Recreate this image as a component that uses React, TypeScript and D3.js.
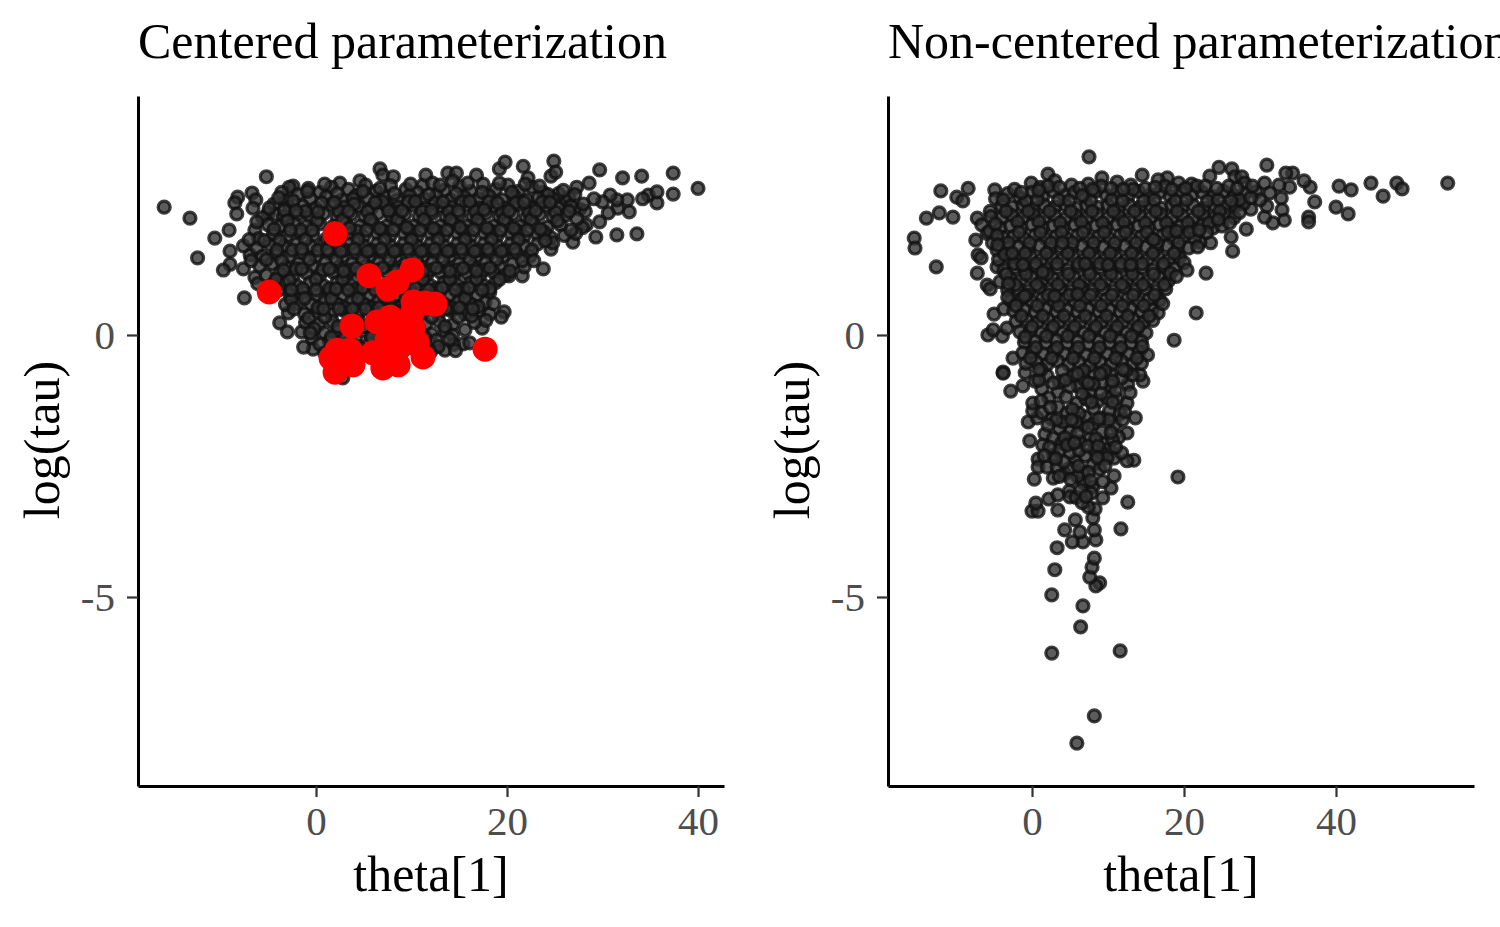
import React, { useEffect, useRef } from 'react';
import * as d3 from 'd3';

type Pt = [number, number];

const thetaTicks = [0, 20, 40];
const tauTicks = [0, -5];

// centered fit: [theta[1], log(tau)], edges first, then the body band by band
const centeredLeftEdge: Pt[] = [
  [-15.9, 2.44], [-13.2, 2.23], [-5.2, 3.02], [-10.6, 1.85], [-12.4, 1.47], [-9.1, 2.0], [-8.2, 2.63], [-8.5, 2.52],
  [-6.7, 2.71], [-6.3, 2.58], [-8.3, 2.31], [-6.6, 2.42], [-5.0, 2.33], [-9.0, 1.6], [-9.0, 1.35], [-9.7, 1.24],
  [-7.6, 1.26], [-7.5, 0.71], [-6.9, 1.53], [-2.4, 2.84], [-2.8, 2.82], [-0.8, 2.8], [-3.8, 0.23], [-3.0, 0.06],
  [-2.9, 0.42], [-1.5, 0.06], [-0.4, -0.06], [-0.3, -0.27], [-1.3, -0.23], [2.8, -0.82], [-6.4, 1.1], [-6.1, 0.98],
];
const centeredTopEdge: Pt[] = [
  [2.5, 2.9], [4.6, 2.94], [6.7, 3.17], [7.0, 3.05], [8.1, 3.02], [11.2, 2.86], [11.5, 3.05], [13.8, 3.09],
  [14.7, 3.09], [16.8, 3.05], [19.2, 3.17], [19.8, 3.3], [21.7, 3.22], [22.2, 3.0], [24.6, 3.03], [24.9, 3.32],
  [25.1, 3.11],
];
const centeredRightEdge: Pt[] = [
  [40, 2.8], [37.4, 3.09], [37.4, 2.69], [34.1, 3.03], [32.1, 3.0], [29.7, 3.15], [28.6, 2.9], [27.3, 2.82],
  [34.8, 2.67], [34.2, 2.6], [35.7, 2.52], [35.7, 2.73], [32.8, 2.35], [33.6, 1.93], [31.5, 1.91], [29.3, 1.87],
  [26.9, 1.77], [24.6, 1.64], [23.8, 1.26], [21.6, 1.13], [20.2, 1.13], [19.7, 0.44], [19.4, 0.34], [15.4, -0.17],
  [13.5, -0.29], [16.1, -0.15], [15.6, 0.1], [17.4, 0.13], [31.6, 2.42], [30.6, 2.33], [29.7, 2.16], [28.3, 2.1],
  [32.6, 2.58], [31.5, 2.58], [30.8, 2.67], [30, 2.54], [29.1, 2.6], [27.6, 2.4], [26.2, 2.55], [27.9, 2.05],
];
const centeredBand27: Pt[] = [
  [-3.6, 2.72], [-1.9, 2.68], [0.4, 2.72], [1.6, 2.82], [3.4, 2.78], [5.2, 2.86], [6.3, 2.74], [7.8, 2.85],
  [9.4, 2.78], [10.6, 2.72], [12.2, 2.9], [13.4, 2.76], [15, 2.84], [16.2, 2.74], [17.5, 2.88], [18.8, 2.78],
  [20.1, 2.86], [21.2, 2.74], [22.6, 2.82], [14.3, 2.94], [23.8, 2.72], [25.4, 2.7], [26.5, 2.62], [24.8, 2.6],
  [-0.6, 2.6], [1.1, 2.64], [2.7, 2.58], [4.2, 2.66], [5.5, 2.6], [7.1, 2.64], [8.5, 2.58], [9.8, 2.66],
  [11.3, 2.6], [12.6, 2.66], [14.1, 2.58], [15.5, 2.64], [17, 2.6], [18.1, 2.66], [19.5, 2.58], [20.8, 2.64],
  [22.1, 2.58], [23.3, 2.62], [-3.1, 2.56], [-4.4, 2.5],
];
const centeredBand24: Pt[] = [
  [-5.6, 2.24], [-4.2, 2.3], [-2.8, 2.44], [-1.4, 2.46], [0, 2.42], [1.5, 2.48], [3, 2.44], [4.4, 2.46],
  [5.8, 2.42], [7.3, 2.48], [8.6, 2.44], [10.1, 2.48], [11.5, 2.42], [12.9, 2.46], [14.2, 2.44], [15.7, 2.48],
  [17.1, 2.42], [18.5, 2.46], [19.8, 2.42], [21.2, 2.48], [22.6, 2.42], [24, 2.46], [25.4, 2.42], [26.7, 2.46],
  [28.2, 2.36], [-3.4, 2.26], [-1.9, 2.3], [-0.6, 2.26], [0.8, 2.32], [2.2, 2.26], [3.7, 2.3], [5.1, 2.26],
  [6.5, 2.32], [7.9, 2.26], [9.3, 2.3], [10.8, 2.26], [12.2, 2.32], [13.6, 2.26], [15, 2.3], [16.4, 2.26],
  [17.8, 2.32], [19.2, 2.26], [20.6, 2.3], [22, 2.24], [23.4, 2.3], [24.8, 2.26], [26.1, 2.28], [27.3, 2.22],
];
const centeredBand20: Pt[] = [
  [-6.4, 2.0], [-5, 2.1], [-3.7, 2.08], [-2.3, 2.12], [-1, 2.08], [0.4, 2.12], [1.8, 2.08], [3.1, 2.14],
  [4.6, 2.08], [6, 2.12], [7.4, 2.08], [8.8, 2.14], [10.2, 2.08], [11.6, 2.12], [13, 2.08], [14.4, 2.14],
  [15.8, 2.08], [17.2, 2.12], [18.6, 2.08], [20, 2.14], [21.4, 2.08], [22.8, 2.12], [24.2, 2.06], [25.6, 2.1],
  [-6, 1.84], [-4.5, 1.92], [-3.1, 1.88], [-1.7, 1.94], [-0.3, 1.9], [3.6, 1.94], [5, 1.88], [6.4, 1.94],
  [7.8, 1.9], [9.2, 1.94], [10.6, 1.88], [12, 1.94], [13.4, 1.9], [14.8, 1.94], [16.2, 1.88], [17.6, 1.94],
  [19, 1.9], [20.4, 1.94], [21.8, 1.88], [23.2, 1.92], [24.6, 1.86], [26, 1.9], [27.2, 1.94],
];
const centeredBand17: Pt[] = [
  [-7.6, 1.7], [-6.2, 1.66], [-4.8, 1.72], [-3.4, 1.7], [-2, 1.74], [-0.6, 1.7], [0.8, 1.74], [2.2, 1.7],
  [3.6, 1.74], [5, 1.7], [6.4, 1.74], [7.8, 1.7], [9.2, 1.74], [10.6, 1.7], [12, 1.74], [13.4, 1.7],
  [14.8, 1.74], [16.2, 1.7], [17.6, 1.74], [19, 1.7], [20.4, 1.74], [21.8, 1.7], [23.2, 1.74], [24.8, 1.76],
  [-5.6, 1.5], [-4.2, 1.54], [-2.8, 1.5], [-1.4, 1.56], [0, 1.5], [1.4, 1.56], [2.8, 1.5], [4.2, 1.56],
  [5.6, 1.5], [7, 1.56], [8.4, 1.5], [9.8, 1.56], [11.2, 1.5], [12.6, 1.56], [14, 1.5], [15.4, 1.56],
  [16.8, 1.5], [18.2, 1.56], [19.6, 1.5], [21, 1.56], [22.4, 1.5],
];
const centeredBand13: Pt[] = [
  [-5.9, 1.32], [-4.6, 1.36], [-3.2, 1.3], [-1.8, 1.36], [-0.4, 1.32], [1, 1.38], [2.4, 1.3], [3.8, 1.36],
  [5.2, 1.32], [6.6, 1.38], [8, 1.3], [9.4, 1.36], [10.8, 1.32], [12.2, 1.38], [13.6, 1.3], [15, 1.36],
  [16.4, 1.32], [17.8, 1.38], [19.2, 1.3], [20.6, 1.36], [21.8, 1.3], [-5.2, 1.14], [-3.8, 1.18], [-2.4, 1.12],
  [-1, 1.18], [0.4, 1.14], [1.8, 1.2], [3.2, 1.12], [4.6, 1.18], [6, 1.14], [7.4, 1.2], [8.8, 1.12],
  [10.2, 1.18], [11.6, 1.14], [13, 1.2], [14.4, 1.12], [15.8, 1.18], [17.2, 1.14], [18.6, 1.2], [19.8, 1.14],
];
const centeredBand09: Pt[] = [
  [-4.6, 0.96], [-3.4, 0.98], [-2, 0.94], [-0.6, 1.0], [0.8, 0.94], [2.2, 1.0], [3.6, 0.96], [5, 1.0],
  [6.4, 0.94], [7.8, 1.0], [9.2, 0.96], [10.6, 1.0], [12, 0.94], [13.4, 1.0], [14.8, 0.96], [16.2, 1.0],
  [17.6, 0.94], [18.8, 1.0], [-2.7, 0.76], [-1.3, 0.82], [0.1, 0.76], [1.5, 0.82], [2.9, 0.76], [4.3, 0.82],
  [5.7, 0.76], [7.1, 0.82], [8.5, 0.76], [9.9, 0.82], [11.3, 0.76], [12.7, 0.82], [14.1, 0.76], [15.5, 0.82],
  [16.9, 0.76], [18.2, 0.82],
];
const centeredBand05: Pt[] = [
  [-3.2, 0.58], [-1.9, 0.6], [-0.5, 0.58], [0.9, 0.64], [2.3, 0.58], [3.7, 0.64], [5.1, 0.58], [6.5, 0.64],
  [7.9, 0.58], [9.3, 0.64], [10.7, 0.58], [12.1, 0.64], [13.5, 0.58], [14.9, 0.64], [16.3, 0.58], [17.7, 0.62],
  [-1.2, 0.4], [0.2, 0.44], [1.6, 0.4], [3, 0.46], [4.4, 0.4], [5.8, 0.46], [7.2, 0.4], [8.6, 0.46],
  [10, 0.4], [11.4, 0.46], [12.8, 0.4], [14.2, 0.46], [15.6, 0.4], [17, 0.46], [18.2, 0.4],
];
const centeredBand01: Pt[] = [
  [-1.1, 0.24], [0.3, 0.2], [1.7, 0.26], [3.1, 0.2], [4.5, 0.26], [5.9, 0.2], [7.3, 0.26], [8.7, 0.2],
  [10.1, 0.26], [11.5, 0.2], [12.9, 0.26], [14.3, 0.2], [16.6, 0.24], [0.9, 0.04], [2.3, 0.08], [3.7, 0.02],
  [5.1, 0.08], [6.5, 0.02], [7.9, 0.08], [9.3, 0.02], [10.7, 0.08], [12.1, 0.02], [13.5, 0.08], [14.3, 0.0],
  [1.4, -0.12], [2.9, -0.16], [4.2, -0.1], [5.6, -0.16], [7, -0.1], [8.4, -0.16], [9.8, -0.1], [11.2, -0.16],
  [12.6, -0.1], [14.4, -0.18],
];
// second pass over the dense body, between the marks above
const centeredFillUpper: Pt[] = [
  [-3.9, 2.62], [-2.4, 2.56], [-0.9, 2.74], [0.9, 2.88], [2.2, 2.7], [3.9, 2.6], [4.9, 2.74], [6.7, 2.8],
  [8.2, 2.7], [9.9, 2.88], [11.8, 2.68], [13, 2.86], [14.7, 2.7], [15.9, 2.9], [17.4, 2.72], [19.2, 2.9],
  [20.5, 2.72], [21.9, 2.88], [23.4, 2.84], [24.3, 2.68], [25.9, 2.76], [27.1, 2.68], [28, 2.5], [-4.9, 2.42],
  [-3.3, 2.38], [-1.1, 2.36], [0.6, 2.52], [2.4, 2.36], [4, 2.5], [5.4, 2.36], [7, 2.54], [8.2, 2.34],
  [9.7, 2.54], [11.1, 2.36], [12.5, 2.52], [13.9, 2.36], [15.3, 2.54], [16.7, 2.36], [18.1, 2.54], [19.5, 2.34],
  [20.9, 2.52], [22.3, 2.34], [23.7, 2.54], [25.1, 2.34], [26.5, 2.36], [-6.2, 2.16], [-4.4, 2.02], [-3, 2.18],
  [-1.6, 2.0], [0.1, 2.18], [1.5, 1.98], [2.8, 2.2], [4.3, 1.98], [5.7, 2.2], [7.1, 1.98], [8.5, 2.2],
  [9.9, 1.98], [11.3, 2.2], [12.7, 1.98], [14.1, 2.2], [15.5, 1.98], [16.9, 2.2], [18.3, 1.98], [19.7, 2.2],
  [21.1, 1.98], [22.5, 2.2], [23.9, 1.96], [25.3, 2.18], [26.7, 2.0], [1.1, 1.84], [2.5, 1.88],
];
const centeredFillMiddle: Pt[] = [
  [-7, 1.82], [-5.4, 1.8], [-3.8, 1.8], [-2.5, 1.62], [-1.1, 1.82], [0.2, 1.62], [1.6, 1.82], [3, 1.62],
  [4.4, 1.82], [5.8, 1.62], [7.2, 1.82], [8.6, 1.62], [10, 1.82], [11.4, 1.62], [12.8, 1.82], [14.2, 1.62],
  [15.6, 1.82], [17, 1.62], [18.4, 1.82], [19.8, 1.62], [21.2, 1.82], [22.6, 1.62], [24, 1.8], [-6.8, 1.42],
  [-5.2, 1.44], [-3.6, 1.42], [-2.1, 1.26], [-0.7, 1.44], [0.7, 1.24], [2.1, 1.44], [3.5, 1.24], [4.9, 1.44],
  [6.3, 1.24], [7.7, 1.44], [9.1, 1.24], [10.5, 1.44], [11.9, 1.24], [13.3, 1.44], [14.7, 1.24], [16.1, 1.44],
  [17.5, 1.24], [18.9, 1.44], [20.3, 1.22], [21.6, 1.42], [22.8, 1.42], [-4.2, 1.06], [-2.8, 1.04], [-1.4, 0.88],
  [0, 1.06], [1.4, 0.88], [2.8, 1.06], [4.2, 0.88], [5.6, 1.06], [7, 0.88], [8.4, 1.06], [9.8, 0.88],
  [11.2, 1.06], [12.6, 0.88], [14, 1.06], [15.4, 0.88], [16.8, 1.06], [18.2, 0.88], [19.2, 1.06],
];
const centeredFillLower: Pt[] = [
  [-3.9, 0.86], [-2.6, 0.68], [-1.2, 0.7], [0.2, 0.52], [1.6, 0.7], [3, 0.52], [4.4, 0.7], [5.8, 0.52],
  [7.2, 0.7], [8.6, 0.52], [10, 0.7], [11.4, 0.52], [12.8, 0.7], [14.2, 0.52], [15.6, 0.7], [17, 0.54],
  [18.6, 0.6], [-2.3, 0.5], [-0.8, 0.32], [0.9, 0.34], [2.3, 0.16], [3.7, 0.34], [5.1, 0.16], [6.5, 0.34],
  [7.9, 0.16], [9.3, 0.34], [10.7, 0.16], [12.1, 0.34], [13.5, 0.16], [14.9, 0.34], [16.3, 0.36], [17.8, 0.28],
  [-0.2, 0.12], [-0.6, 0.04], [1.6, -0.04], [3, -0.06], [4.4, -0.22], [5.8, -0.04], [7.2, -0.24], [8.6, -0.04],
  [10, -0.24], [11.4, -0.04], [12.8, -0.22], [14, -0.08], [0.4, -0.18], [0.9, -0.34], [12, -0.32], [14.6, -0.3],
];
// third pass, the spots the first two left open
const centeredFillGaps: Pt[] = [
  [-2.1, 2.37], [0.2, 2.35], [1.9, 2.53], [3.4, 2.36], [6.2, 2.53], [7.6, 2.37], [9, 2.37], [10.4, 2.55],
  [12.1, 2.38], [13.3, 2.54], [14.9, 2.37], [16.1, 2.55], [17.6, 2.39], [19, 2.52], [20.2, 2.37], [21.8, 2.53],
  [23, 2.37], [24.5, 2.53], [-2.7, 2.0], [-0.4, 2.0], [2.2, 2.0], [3.5, 2.04], [5.3, 2.0], [6.7, 2.03],
  [8.1, 2.01], [9.5, 2.05], [10.9, 2.0], [12.3, 2.03], [13.7, 2.0], [15.1, 2.05], [16.5, 2.01], [17.9, 2.04],
  [19.3, 2.0], [20.7, 2.04], [22.1, 2.0], [23.5, 2.02], [-4.1, 1.62], [-1.5, 1.64], [1.2, 1.63], [2.6, 1.6],
  [4, 1.64], [5.4, 1.6], [6.8, 1.64], [8.2, 1.6], [9.6, 1.64], [11, 1.6], [12.4, 1.64], [13.8, 1.6],
  [15.2, 1.64], [16.6, 1.6], [18, 1.64], [19.4, 1.6], [20.8, 1.64], [-3.4, 1.24], [-1.5, 1.26], [1.4, 1.26],
  [2.9, 1.22], [4.2, 1.27], [5.6, 1.23], [7, 1.28], [8.4, 1.22], [9.8, 1.27], [11.2, 1.22], [12.6, 1.28],
  [14, 1.22], [15.4, 1.27], [16.8, 1.22], [18.2, 1.28], [-2.6, 0.86], [0, 0.86], [2.1, 0.88], [3.4, 0.86],
  [4.9, 0.9], [6.2, 0.86], [7.6, 0.9], [9, 0.86], [10.4, 0.9], [11.8, 0.86], [13.2, 0.9], [14.6, 0.86],
  [16, 0.9], [17.4, 0.86], [0.8, 0.5], [2.4, 0.5], [3.8, 0.5], [5.2, 0.5], [6.6, 0.52], [8, 0.5],
  [9.4, 0.52], [10.8, 0.5], [12.2, 0.52], [13.6, 0.5], [15, 0.52], [16.4, 0.5],
];
const centeredDivergent: Pt[] = [
  [2, 1.93], [-4.9, 0.82], [5.55, 1.13], [7.54, 0.88], [10.05, 1.24], [8.5, 1.01], [10.16, 0.63], [11.4, 0.61],
  [12.46, 0.59], [3.77, 0.17], [6.39, 0.25], [7.75, 0.34], [10.16, 0.15], [8.8, 0.1], [7.43, -0.1], [10.6, -0.15],
  [11.2, -0.42], [7, -0.63], [8.6, -0.57], [3.87, -0.57], [2, -0.71], [1.57, -0.44], [2.2, -0.29], [3.56, -0.29],
  [5.97, -0.34], [8.8, -0.23], [17.7, -0.27], [10, 0.38], [8.2, -0.35],
];

// non-centered fit
const nonCenteredLeftEdge: Pt[] = [
  [7.5, 3.4], [-12, 2.75], [-8.4, 2.8], [-9.9, 2.63], [-9.1, 2.56], [-13.9, 2.23], [-12.2, 2.33], [-10.4, 2.25],
  [-15.5, 1.85], [-15.4, 1.66], [-12.6, 1.3], [-4.9, 2.77], [-7.2, 2.23], [-7.4, 1.81], [-7.1, 1.53], [-6.7, 1.47],
  [-7.2, 1.18], [-5.9, 0.95], [-5.5, 0.88], [-5, 0.4], [-3.7, 0.5], [-5.8, 0], [-5.1, 0.1], [-3.9, -0.02],
  [-3.3, 0.13], [-2.5, -0.44], [-3.8, -0.71], [-4.8, 2.6], [-5.5, 2.36], [-6.6, 2.1], [-5.9, 1.94], [-4.6, 1.3],
];
const nonCenteredTopEdge: Pt[] = [
  [2.1, 3.07], [3, 2.94], [-0.1, 2.9], [9.2, 3], [11.2, 2.92], [14.5, 3.05], [17.8, 3], [16.6, 2.96],
  [19.3, 2.9], [21, 2.88], [5.2, 2.86], [7.4, 2.88], [13, 2.86], [1.1, 2.82], [23.4, 3.03], [24.6, 3.2],
  [26.3, 3.17], [26.7, 3.02], [27.6, 3.02], [28, 2.9],
];
const nonCenteredRightEdge: Pt[] = [
  [54.7, 2.9], [48, 2.9], [48.7, 2.79], [46.2, 2.65], [44.6, 2.9], [42, 2.77], [40.4, 2.84], [40, 2.44],
  [41.6, 2.31], [37.2, 2.54], [36.6, 2.82], [35.8, 2.94], [36.4, 2.25], [36.4, 2.16], [34.3, 3.09], [33.4, 3.09],
  [30.9, 3.24], [33.9, 2.82], [30.6, 2.9], [32.5, 2.86], [32.8, 2.61], [32.9, 2.39], [33.2, 2.19], [31.7, 2.14],
  [30.6, 2.25], [30.9, 2.46], [31.3, 2.71], [29.5, 2.73], [30, 2.58], [28.8, 2.4], [28.2, 2.02], [26.4, 1.6],
  [26.2, 1.87], [22.9, 1.18], [21.6, 0.42], [23.5, 1.76], [22.1, 1.77], [18.7, -0.1],
];
const nonCenteredTail: Pt[] = [
  [5.9, -7.79], [8.2, -7.27], [2.6, -6.07], [11.6, -6.03], [6.4, -5.57], [6.7, -5.17], [2.6, -4.96], [3, -4.48],
  [3.3, -4.06], [8.9, -4.73], [8.4, -4.79], [7.6, -4.62], [7.9, -4.43], [8.2, -4.26], [11.7, -3.7], [8.4, -3.91],
  [6.7, -3.95], [5.3, -3.95], [6.3, -3.76], [4.3, -3.72], [5.7, -3.53], [8.2, -3.72], [8, -3.49], [8.3, -3.32],
  [7.4, -3.28], [12.6, -3.19], [0, -3.36], [0.8, -3.36], [0.5, -3.21], [3.4, -3.34], [2.2, -3.13], [3.4, -3.05],
  [4.9, -2.98], [5, -3.09], [9.3, -3.11], [10.4, -2.92], [10.8, -2.69], [19.2, -2.71], [0.3, -2.75], [2.8, -2.73],
];
const nonCenteredNeck: Pt[] = [
  [0.8, -2.37], [0.8, -2.52], [2, -2.52], [3.3, -2.52], [2.8, -2.29], [4.3, -2.65], [6.7, -2.63], [6.8, -2.82],
  [8, -2.9], [9.3, -2.8], [5.7, -2.4], [5, -2.54], [8, -2.48], [8.9, -2.56], [13.4, -2.39], [12.5, -2.4],
  [10.8, -2.35], [11.8, -2.25], [9.5, -2.08], [7.6, -1.98], [6.3, -2.04], [5, -2.25], [-0.3, -2.02], [1.7, -1.89],
  [2.8, -1.97], [3.9, -2.06], [5, -1.85], [6.7, -1.72], [9.2, -1.85], [10.9, -1.72], [12.5, -1.87], [13.6, -1.58],
  [9.3, -1.58], [-0.5, -1.66], [0.7, -1.58], [0.1, -1.45], [0.1, -1.3], [-2.8, -1.07], [-3.8, -0.73], [3.4, -1.37],
  [5.9, -1.3], [8.7, -1.26], [11.2, -1.22], [14.6, -0.88], [12.5, -1.3], [3.4, -1.09], [1.3, -1.03], [-1.2, -0.97],
  [7.6, -1.09], [10.4, -0.97], [12.6, -0.94], [14.2, -0.76], [2, -0.78], [5.4, -0.78], [8, -0.71], [10.3, -0.73],
  [4.6, -1.49], [7, -1.56], [2.6, -1.6], [8.2, -2.2], [7, -2.3], [3.6, -1.78], [8.1, -1.4], [10.2, -1.45],
  [11.4, -1.95], [10.1, -2.18], [4.2, -2.42], [6.2, -1.5], [6.1, -0.98], [9.2, -0.92], [0.4, -0.88], [-0.9, -0.72],
  [2.2, -1.2], [4.5, -1.18], [7.1, -1.22], [9.9, -1.2], [11.6, -1.5], [4.1, -1.66], [5.8, -1.66], [8, -1.7],
  [10.1, -1.62], [11.9, -1.62], [4.3, -1.96], [6, -1.88], [8.4, -1.98], [10.6, -2.0], [6.2, -2.2], [9.2, -2.26],
  [7.4, -2.62], [6, -2.7], [7.8, -3.02], [5.8, -3.1], [6.6, -3.2], [3.6, -2.2], [1.2, -1.26], [12.9, -1.1],
];
const nonCenteredBand27: Pt[] = [
  [-3.2, 2.7], [-1.6, 2.62], [0, 2.72], [1.4, 2.64], [2.8, 2.74], [4.2, 2.66], [5.6, 2.72], [7, 2.64],
  [8.4, 2.74], [9.8, 2.66], [11.2, 2.72], [12.6, 2.64], [14, 2.74], [15.4, 2.66], [16.8, 2.72], [18.2, 2.64],
  [19.6, 2.74], [21, 2.66], [22.4, 2.72], [23.8, 2.64], [25.2, 2.74], [26.6, 2.66], [28, 2.7], [-4, 2.46],
  [-2.6, 2.44], [-1.2, 2.48], [0.2, 2.42], [1.6, 2.48], [3, 2.44], [4.4, 2.48], [5.8, 2.42], [7.2, 2.48],
  [8.6, 2.44], [10, 2.48], [11.4, 2.42], [12.8, 2.48], [14.2, 2.44], [15.6, 2.48], [17, 2.42], [18.4, 2.48],
  [19.8, 2.44], [21.2, 2.48], [22.6, 2.42], [24, 2.48], [25.4, 2.44], [26.8, 2.48], [27.8, 2.5],
];
const nonCenteredBand22: Pt[] = [
  [-5.4, 2.26], [-4, 2.24], [-2.6, 2.28], [-1.2, 2.24], [0.2, 2.3], [1.6, 2.24], [3, 2.28], [4.4, 2.22],
  [5.8, 2.28], [7.2, 2.24], [8.6, 2.3], [10, 2.24], [11.4, 2.28], [12.8, 2.22], [14.2, 2.28], [15.6, 2.24],
  [17, 2.3], [18.4, 2.24], [19.8, 2.28], [21.2, 2.22], [22.6, 2.28], [24, 2.24], [25.4, 2.3], [26.6, 2.24],
  [-5.6, 1.98], [-4.2, 2.04], [-2.8, 2.08], [-1.4, 2.04], [0, 2.1], [1.4, 2.04], [2.8, 2.08], [4.2, 2.04],
  [5.6, 2.1], [7, 2.04], [8.4, 2.08], [9.8, 2.04], [11.2, 2.1], [12.6, 2.04], [14, 2.08], [15.4, 2.04],
  [16.8, 2.1], [18.2, 2.04], [19.6, 2.08], [21, 2.04], [22.4, 2.1], [23.8, 2.04], [25, 2.08],
];
const nonCenteredBand18: Pt[] = [
  [-5.2, 1.76], [-3.8, 1.86], [-2.4, 1.88], [-1, 1.84], [0.4, 1.9], [1.8, 1.84], [3.2, 1.88], [4.6, 1.84],
  [6, 1.9], [7.4, 1.84], [8.8, 1.88], [10.2, 1.84], [11.6, 1.9], [13, 1.84], [14.4, 1.88], [15.8, 1.84],
  [17.2, 1.9], [18.6, 1.84], [20, 1.88], [21.4, 1.84], [-4.6, 1.62], [-3.2, 1.66], [-1.8, 1.68], [-0.4, 1.64],
  [1, 1.7], [2.4, 1.64], [3.8, 1.68], [5.2, 1.64], [6.6, 1.7], [8, 1.64], [9.4, 1.68], [10.8, 1.64],
  [12.2, 1.7], [13.6, 1.64], [15, 1.68], [16.4, 1.64], [17.8, 1.7], [19.2, 1.64], [20.6, 1.66],
];
const nonCenteredBand14: Pt[] = [
  [-4.4, 1.44], [-3, 1.48], [-1.6, 1.44], [-0.2, 1.5], [1.2, 1.44], [2.6, 1.48], [4, 1.44], [5.4, 1.5],
  [6.8, 1.44], [8.2, 1.48], [9.6, 1.44], [11, 1.5], [12.4, 1.44], [13.8, 1.48], [15.2, 1.44], [16.6, 1.5],
  [18, 1.44], [19.4, 1.48], [-3.7, 1.24], [-2.3, 1.28], [-0.9, 1.24], [0.5, 1.3], [1.9, 1.24], [3.3, 1.28],
  [4.7, 1.24], [6.1, 1.3], [7.5, 1.24], [8.9, 1.28], [10.3, 1.24], [11.7, 1.3], [13.1, 1.24], [14.5, 1.28],
  [15.9, 1.24], [17.3, 1.3], [18.7, 1.26],
];
const nonCenteredBand10: Pt[] = [
  [-4.2, 1.02], [-2.9, 1.08], [-1.5, 1.04], [-0.1, 1.1], [1.3, 1.04], [2.7, 1.08], [4.1, 1.04], [5.5, 1.1],
  [6.9, 1.04], [8.3, 1.08], [9.7, 1.04], [11.1, 1.1], [12.5, 1.04], [13.9, 1.08], [15.3, 1.04], [16.7, 1.1],
  [18, 1.04], [-3.2, 0.86], [-1.8, 0.88], [-0.4, 0.84], [1, 0.9], [2.4, 0.84], [3.8, 0.88], [5.2, 0.84],
  [6.6, 0.9], [8, 0.84], [9.4, 0.88], [10.8, 0.84], [12.2, 0.9], [13.6, 0.84], [15, 0.88], [16.4, 0.84],
  [17.6, 0.88],
];
const nonCenteredBand06: Pt[] = [
  [-2.8, 0.66], [-1.4, 0.68], [0, 0.64], [1.4, 0.7], [2.8, 0.64], [4.2, 0.68], [5.6, 0.64], [7, 0.7],
  [8.4, 0.64], [9.8, 0.68], [11.2, 0.64], [12.6, 0.7], [14, 0.64], [15.4, 0.68], [16.8, 0.66], [-2.4, 0.46],
  [-1, 0.48], [0.4, 0.44], [1.8, 0.5], [3.2, 0.44], [4.6, 0.48], [6, 0.44], [7.4, 0.5], [8.8, 0.44],
  [10.2, 0.48], [11.6, 0.44], [13, 0.5], [14.4, 0.44], [15.8, 0.48], [16.6, 0.42],
];
const nonCenteredBand02: Pt[] = [
  [-2.1, 0.26], [-0.7, 0.28], [0.7, 0.24], [2.1, 0.3], [3.5, 0.24], [4.9, 0.28], [6.3, 0.24], [7.7, 0.3],
  [9.1, 0.24], [10.5, 0.28], [11.9, 0.24], [13.3, 0.3], [14.7, 0.24], [15.9, 0.28], [-1.6, 0.06], [-0.2, 0.08],
  [1.2, 0.04], [2.6, 0.1], [4, 0.04], [5.4, 0.08], [6.8, 0.04], [8.2, 0.1], [9.6, 0.04], [11, 0.08],
  [12.4, 0.04], [13.8, 0.1], [15, 0.04], [-1, -0.14], [0.4, -0.12], [1.8, -0.16], [3.2, -0.1], [4.6, -0.16],
  [6, -0.12], [7.4, -0.18], [8.8, -0.12], [10.2, -0.16], [11.6, -0.1], [13, -0.16], [14.4, -0.12],
];
const nonCenteredBandNeg: Pt[] = [
  [-1.2, -0.34], [0.1, -0.32], [1.5, -0.36], [2.9, -0.3], [4.3, -0.36], [5.7, -0.32], [7.1, -0.38], [8.5, -0.32],
  [9.9, -0.36], [11.3, -0.3], [12.7, -0.36], [14.1, -0.32], [15.2, -0.38], [-0.8, -0.54], [0.6, -0.52], [2, -0.56],
  [3.4, -0.5], [4.8, -0.56], [6.2, -0.52], [7.6, -0.58], [9, -0.52], [10.4, -0.56], [11.8, -0.5], [13.2, -0.56],
  [14.4, -0.54], [3.6, -0.9], [6.8, -0.84], [11.8, -0.82], [13.2, -0.76],
];
// second pass over the dense body
const nonCenteredFillUpper: Pt[] = [
  [-3.8, 2.58], [-2.3, 2.78], [-0.8, 2.56], [0.7, 2.58], [2.1, 2.84], [3.5, 2.58], [4.9, 2.56], [6.3, 2.8],
  [7.7, 2.56], [9.1, 2.84], [10.5, 2.58], [11.9, 2.56], [13.3, 2.78], [14.7, 2.56], [16.1, 2.58], [17.5, 2.84],
  [18.9, 2.56], [20.3, 2.58], [21.7, 2.84], [23.1, 2.56], [24.5, 2.58], [25.9, 2.84], [27.3, 2.58], [28.8, 2.62],
  [-4.8, 2.12], [-3.4, 2.36], [-1.9, 2.16], [-0.5, 2.36], [0.9, 2.16], [2.3, 2.36], [3.7, 2.14], [5.1, 2.36],
  [6.5, 2.16], [7.9, 2.36], [9.3, 2.14], [10.7, 2.36], [12.1, 2.16], [13.5, 2.36], [14.9, 2.14], [16.3, 2.36],
  [17.7, 2.14], [19.1, 2.36], [20.5, 2.14], [21.9, 2.36], [23.3, 2.14], [24.7, 2.36], [26, 2.14], [27.3, 2.34],
];
const nonCenteredFillMiddle: Pt[] = [
  [-4.6, 1.9], [-3.1, 1.76], [-1.7, 1.96], [-0.3, 1.76], [1.1, 1.96], [2.5, 1.76], [3.9, 1.96], [5.3, 1.76],
  [6.7, 1.96], [8.1, 1.76], [9.5, 1.96], [10.9, 1.76], [12.3, 1.96], [13.7, 1.76], [15.1, 1.96], [16.5, 1.76],
  [17.9, 1.96], [19.3, 1.76], [20.7, 1.96], [21.8, 1.68], [23, 1.96], [-3.6, 1.54], [-2.3, 1.36], [-0.9, 1.56],
  [0.5, 1.36], [1.9, 1.56], [3.3, 1.36], [4.7, 1.56], [6.1, 1.36], [7.5, 1.56], [8.9, 1.36], [10.3, 1.56],
  [11.7, 1.36], [13.1, 1.56], [14.5, 1.36], [15.9, 1.56], [17.3, 1.36], [18.7, 1.56], [20, 1.38], [20.4, 1.24],
  [-3.4, 1.16], [-2.2, 0.96], [-0.8, 1.16], [0.6, 0.96], [2, 1.16], [3.4, 0.96], [4.8, 1.16], [6.2, 0.96],
  [7.6, 1.16], [9, 0.96], [10.4, 1.16], [11.8, 0.96], [13.2, 1.16], [14.6, 0.96], [16, 1.16], [17.4, 0.96],
  [18.2, 1.18], [19, 1.12],
];
const nonCenteredFillLower: Pt[] = [
  [-3.2, 0.72], [-2.1, 0.56], [-0.7, 0.76], [0.7, 0.56], [2.1, 0.76], [3.5, 0.56], [4.9, 0.76], [6.3, 0.56],
  [7.7, 0.76], [9.1, 0.56], [10.5, 0.76], [11.9, 0.56], [13.3, 0.76], [14.7, 0.56], [16.1, 0.76], [17.2, 0.6],
  [-1.4, 0.36], [0, 0.16], [1.4, 0.36], [2.8, 0.16], [4.2, 0.36], [5.6, 0.16], [7, 0.36], [8.4, 0.16],
  [9.8, 0.36], [11.2, 0.16], [12.6, 0.36], [14, 0.16], [15.4, 0.36], [-0.9, -0.04], [0.5, -0.24], [1.9, -0.02],
  [3.3, -0.24], [4.7, -0.02], [6.1, -0.24], [7.5, -0.02], [8.9, -0.24], [10.3, -0.02], [11.7, -0.24], [13.1, -0.02],
  [14.5, -0.22], [-0.2, -0.44], [1.2, -0.66], [2.6, -0.44], [4, -0.68], [5.4, -0.44], [6.8, -0.68], [8.2, -0.44],
  [9.6, -0.68], [11, -0.44], [12.4, -0.68], [13.8, -0.44], [0.9, -0.86], [5, -0.98], [8.1, -0.94], [11, -1.06],
];
// third pass: the neck and the top shoulder that still looked thin
const nonCenteredFillGaps: Pt[] = [
  [1.3, -1.48], [2.4, -1.38], [3.2, -1.62], [5.3, -1.42], [6.6, -1.12], [7.8, -1.28], [9.1, -1.12], [10.6, -1.28],
  [12.2, -1.46], [2.1, -1.72], [5.2, -1.62], [7.4, -1.76], [8.8, -1.6], [10.4, -1.86], [1.4, -2.1], [2.3, -2.14],
  [3.1, -2.36], [4.6, -2.1], [5.6, -2.06], [7.3, -2.12], [8.7, -2.12], [9.9, -2.34], [11, -2.14], [3.6, -2.7],
  [5.1, -2.76], [6.1, -2.5], [7.7, -2.78], [8.6, -2.34], [9.6, -2.5], [1.6, -2.3], [6.4, -2.96], [7.1, -3.08],
  [0.9, -0.66], [2.8, -0.92], [4.4, -0.86], [6, -0.74], [7.4, -0.92], [9, -0.74], [10.6, -0.88], [12, -0.66],
  [-1.4, 2.72], [0.9, 2.76], [3.6, 2.82], [6.6, 2.66], [8, 2.78], [10.4, 2.8], [12, 2.78], [14.9, 2.8],
  [16.2, 2.82], [18.4, 2.78], [20.2, 2.8], [22.8, 2.84], [24.3, 2.8], [27, 2.8], [29, 2.84], [26.2, 2.56],
  [-4.5, 1.72], [-2.6, 1.56], [-1.2, 1.34], [1.4, 1.2], [4, 1.76], [7, 1.36], [10, 1.34], [13, 1.34],
  [16, 1.82], [19, 1.98], [22, 2.0], [24.5, 2.2], [-3.1, 0.98], [-1, 0.74], [3, 0.74], [6, 0.78],
];

const centeredPoints = [
  ...centeredLeftEdge, ...centeredTopEdge, ...centeredRightEdge, ...centeredBand27, ...centeredBand24,
  ...centeredBand20, ...centeredBand17, ...centeredBand13, ...centeredBand09, ...centeredBand05, ...centeredBand01,
  ...centeredFillUpper, ...centeredFillMiddle, ...centeredFillLower, ...centeredFillGaps,
];
const nonCenteredPoints = [
  ...nonCenteredLeftEdge, ...nonCenteredTopEdge, ...nonCenteredRightEdge, ...nonCenteredTail, ...nonCenteredNeck,
  ...nonCenteredBand27, ...nonCenteredBand22, ...nonCenteredBand18, ...nonCenteredBand14, ...nonCenteredBand10,
  ...nonCenteredBand06, ...nonCenteredBand02, ...nonCenteredBandNeg,
  ...nonCenteredFillUpper, ...nonCenteredFillMiddle, ...nonCenteredFillLower, ...nonCenteredFillGaps,
];

const width = 1500;
const height = 927;
const serif = '"Liberation Serif", "Times New Roman", serif';

const drawPanel = (svg: any, opts: any) => {
  const { left, right, xDomain, title, points, divergent } = opts;
  const top = 96;
  const bottom = 786;

  const x = d3.scaleLinear().domain(xDomain).range([left, right]);
  const y = d3.scaleLinear().domain([-8.607, 4.561]).range([bottom, top]);

  const g = svg.append('g');

  g.append('g')
    .selectAll('circle')
    .data(points)
    .join('circle')
    .attr('cx', (d: Pt) => x(d[0]))
    .attr('cy', (d: Pt) => y(d[1]))
    .attr('r', 6)
    .attr('fill', '#333333')
    .attr('fill-opacity', 0.8)
    .attr('stroke', '#111111')
    .attr('stroke-opacity', 0.8)
    .attr('stroke-width', 3.2);

  if (divergent) {
    g.append('g')
      .selectAll('circle')
      .data(divergent)
      .join('circle')
      .attr('cx', (d: Pt) => x(d[0]))
      .attr('cy', (d: Pt) => y(d[1]))
      .attr('r', 12.5)
      .attr('fill', '#ff0000');
  }

  const xAxis = g.append('g')
    .attr('transform', `translate(0, ${bottom})`)
    .call(d3.axisBottom(x).tickValues(thetaTicks).tickFormat((d: any) => String(d)).tickSizeInner(11).tickSizeOuter(0).tickPadding(9));
  const yAxis = g.append('g')
    .attr('transform', `translate(${left}, 0)`)
    .call(d3.axisLeft(y).tickValues(tauTicks).tickFormat((d: any) => String(d)).tickSizeInner(11).tickSizeOuter(0).tickPadding(12));

  [xAxis, yAxis].forEach((axis: any) => {
    axis.select('.domain').attr('stroke', '#000').attr('stroke-width', 3);
    axis.selectAll('.tick line').attr('stroke', '#333333').attr('stroke-width', 2.2);
    axis.selectAll('.tick text')
      .attr('fill', '#4d4d4d')
      .style('font-family', serif)
      .style('font-size', '41px');
  });

  g.append('text')
    .attr('x', left)
    .attr('y', 58)
    .attr('fill', '#000')
    .style('font-family', serif)
    .style('font-size', '50px')
    .text(title);

  g.append('text')
    .attr('x', (left + right) / 2)
    .attr('y', 891)
    .attr('text-anchor', 'middle')
    .attr('fill', '#000')
    .style('font-family', serif)
    .style('font-size', '50px')
    .text('theta[1]');

  g.append('text')
    .attr('transform', `translate(${left - 79}, ${(top + bottom) / 2 - 1}) rotate(-90)`)
    .attr('text-anchor', 'middle')
    .attr('fill', '#000')
    .style('font-family', serif)
    .style('font-size', '50px')
    .text('log(tau)');
};

const App = () => {
  const svgRef = useRef<SVGSVGElement | null>(null);

  useEffect(() => {
    if (!svgRef.current) return;
    const svg = d3.select(svgRef.current);
    svg.selectAll('*').remove();

    drawPanel(svg, {
      left: 138,
      right: 724,
      xDomain: [-18.64, 42.72],
      title: 'Centered parameterization',
      points: centeredPoints,
      divergent: centeredDivergent,
    });
    drawPanel(svg, {
      left: 888,
      right: 1474,
      xDomain: [-18.95, 58.16],
      title: 'Non-centered parameterization',
      points: nonCenteredPoints,
    });
  }, []);

  return (
    <svg
      ref={svgRef}
      width={width}
      height={height}
      style={{ position: 'absolute', left: 0, top: 0, display: 'block', background: '#fff' }}
    />
  );
};

export default App;
